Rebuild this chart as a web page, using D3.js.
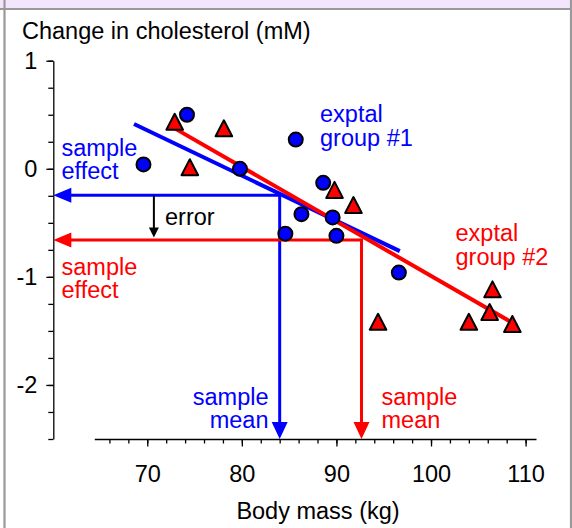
<!DOCTYPE html>
<html>
<head>
<meta charset="utf-8">
<script src="https://cdn.jsdelivr.net/npm/d3@7"></script>
<style>
  body { margin: 0; background: #fff; }
  svg { display: block; font-family: "Liberation Sans", Arial, sans-serif; }
</style>
</head>
<body>
<svg id="chart"></svg>
<script>
// Experimental group #1 (blue circles) and #2 (red triangles)
const group1Mass = [69.6, 74.2, 79.8, 85.7, 88.6, 86.3, 89.6, 84.6, 90.0, 96.6];
const group1Chol = [0.04, 0.50, 0.00, 0.27, -0.13, -0.42, -0.45, -0.60, -0.62, -0.96];
const group2Mass = [72.9, 78.1, 74.5, 89.8, 91.8, 94.4, 104.0, 106.2, 106.5, 108.6];
const group2Chol = [0.43, 0.37, 0.01, -0.20, -0.34, -1.42, -1.42, -1.33, -1.12, -1.44];

// fitted lines (mass, cholesterol) at both ends
const group1Fit = [[68.6, 0.414], [96.7, -0.762]];
const group2Fit = [[72.9, 0.374], [109.05, -1.447]];

// sample means (mass, cholesterol)
const group1Mean = [84.0, -0.245];
const group2Mean = [92.65, -0.66];
const errorMass = 70.7;

const xMajor = [70, 80, 90, 100, 110];
const xMinor = d3.range(66, 111, 2);
const yMajor = [-2, -1, 0, 1];
const yMinor = d3.range(-2.5, 1.01, 0.25);

const W = 572, H = 528;
const BLUE = '#0000ff', RED = '#ff0000';
const FS = 23.5;

const svg = d3.select('#chart').attr('width', W).attr('height', H);

// frame
svg.append('rect').attr('x', 0).attr('y', 0).attr('width', W).attr('height', 9).attr('fill', '#f3e6fc');
svg.append('line').attr('x1', 0).attr('x2', W).attr('y1', 9).attr('y2', 9).attr('stroke', '#999').attr('stroke-width', 2);
svg.append('line').attr('x1', 4.5).attr('x2', 4.5).attr('y1', 0).attr('y2', H).attr('stroke', '#999').attr('stroke-width', 2.2);
svg.append('line').attr('x1', 571).attr('x2', 571).attr('y1', 0).attr('y2', H).attr('stroke', '#999').attr('stroke-width', 2.2);

const x = d3.scaleLinear().domain([64.4, 111.1]).range([94.3, 536]);
const y = d3.scaleLinear().domain([-2.5, 1]).range([439, 60.7]);
const axisX = 53.3, axisY = 439;

// y axis
svg.append('g')
  .attr('transform', `translate(${axisX},0)`)
  .call(d3.axisLeft(y).tickValues(yMinor).tickSize(5).tickSizeOuter(0).tickFormat(''))
  .call(g => g.select('.domain').remove());
svg.append('g')
  .attr('class', 'y-axis')
  .attr('transform', `translate(${axisX},0)`)
  .call(d3.axisLeft(y).tickValues(yMajor).tickSize(7).tickSizeOuter(0).tickPadding(9).tickFormat(d => String(d)));

// x axis
svg.append('g')
  .attr('transform', `translate(0,${axisY})`)
  .call(d3.axisBottom(x).tickValues(xMinor).tickSize(4.5).tickSizeOuter(0).tickFormat(''))
  .call(g => g.select('.domain').remove());
svg.append('g')
  .attr('class', 'x-axis')
  .attr('transform', `translate(0,${axisY})`)
  .call(d3.axisBottom(x).tickValues(xMajor).tickSize(7.5).tickSizeOuter(0).tickPadding(18.5));

svg.selectAll('.tick line, .domain').attr('stroke', '#000').attr('stroke-width', 1.3);
svg.selectAll('.tick text').attr('font-size', FS).attr('font-family', '"Liberation Sans", Arial, sans-serif').attr('fill', '#000');

// axis titles
svg.append('text').attr('x', 22).attr('y', 39).attr('font-size', FS).text('Change in cholesterol (mM)');
svg.append('text').attr('x', 318).attr('y', 519).attr('font-size', FS).attr('text-anchor', 'middle').text('Body mass (kg)');

// arrow helper: shaft from (x1,y1) to the tip (x2,y2)
function arrow(x1, y1, x2, y2, color, width, len, half) {
  const dx = x2 - x1, dy = y2 - y1, d = Math.hypot(dx, dy);
  const ux = dx / d, uy = dy / d;
  const bx = x2 - ux * len, by = y2 - uy * len;
  svg.append('line')
    .attr('x1', x1).attr('y1', y1).attr('x2', bx + ux).attr('y2', by + uy)
    .attr('stroke', color).attr('stroke-width', width);
  svg.append('path')
    .attr('d', `M${x2},${y2}L${bx - uy * half},${by + ux * half}L${bx + uy * half},${by - ux * half}Z`)
    .attr('fill', color);
}

// sample mean / effect arrows
[[group1Mean, BLUE], [group2Mean, RED]].forEach(([m, c]) => {
  arrow(x(m[0]), y(m[1]), axisX, y(m[1]), c, 3, 18, 7.5);
  arrow(x(m[0]), y(m[1]) - 1.5, x(m[0]), axisY, c, 3, 17, 8);
});

// error arrow
arrow(x(errorMass), y(group1Mean[1]), x(errorMass), y(group2Mean[1]) - 2.5, '#000', 2, 10, 5);
svg.append('text').attr('x', 165).attr('y', 225).attr('font-size', FS).text('error');

// fitted lines
const fitLine = d3.line().x(d => x(d[0])).y(d => y(d[1]));
svg.append('path').attr('d', fitLine(group1Fit)).attr('stroke', BLUE).attr('stroke-width', 4).attr('fill', 'none');
svg.append('path').attr('d', fitLine(group2Fit)).attr('stroke', RED).attr('stroke-width', 4).attr('fill', 'none');

// points
svg.selectAll('.dot')
  .data(group1Mass.map((m, i) => [m, group1Chol[i]]))
  .enter().append('circle')
  .attr('class', 'dot')
  .attr('cx', d => x(d[0]))
  .attr('cy', d => y(d[1]))
  .attr('r', 7)
  .attr('fill', BLUE)
  .attr('stroke', '#000')
  .attr('stroke-width', 2);

svg.selectAll('.tri')
  .data(group2Mass.map((m, i) => [m, group2Chol[i]]))
  .enter().append('path')
  .attr('class', 'tri')
  .attr('transform', d => `translate(${x(d[0])},${y(d[1])})`)
  .attr('d', 'M0,-8.5L8.3,7.5L-8.3,7.5Z')
  .attr('fill', RED)
  .attr('stroke', '#000')
  .attr('stroke-width', 2)
  .attr('stroke-linejoin', 'round');

// labels
function label(lines, xp, yp, color, anchor) {
  const t = svg.append('text')
    .attr('x', xp).attr('y', yp)
    .attr('font-size', FS)
    .attr('fill', color)
    .attr('text-anchor', anchor || 'start');
  lines.forEach((s, i) => t.append('tspan').attr('x', xp).attr('dy', i ? 23.5 : 0).text(s));
}
label(['sample', 'effect'], 61.5, 155.5, BLUE);
label(['sample', 'effect'], 61.5, 274.5, RED);
label(['exptal', 'group #1'], 320, 122, BLUE);
label(['exptal', 'group #2'], 455.5, 241, RED);
label(['sample', 'mean'], 268.5, 404.5, BLUE, 'end');
label(['sample', 'mean'], 381.5, 404.5, RED);
</script>
</body>
</html>
